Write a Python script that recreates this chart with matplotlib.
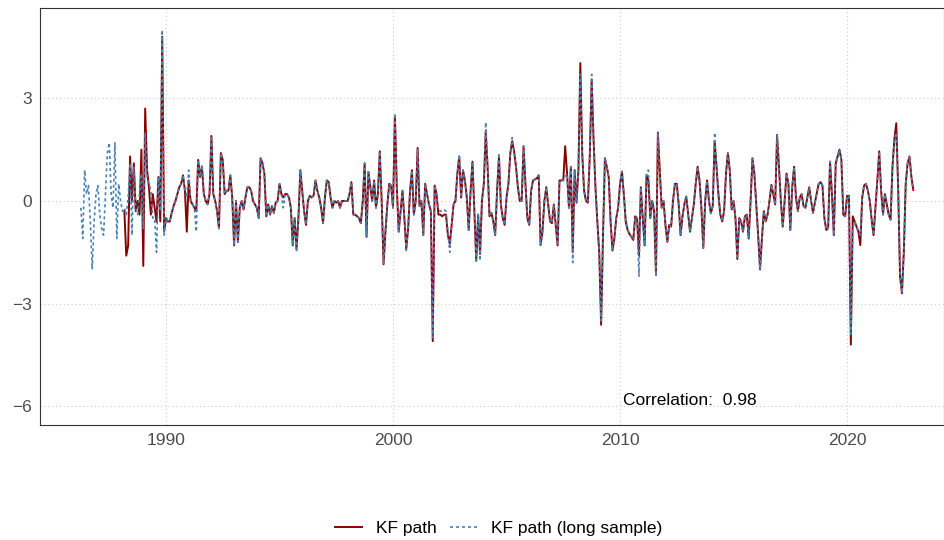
import numpy as np
import pandas as pd
import matplotlib
matplotlib.use("Agg")
import matplotlib.pyplot as plt
from matplotlib.lines import Line2D

plt.rcParams["font.family"] = ["Liberation Sans", "DejaVu Sans"]

# Monthly KF path, long sample (starts 1986-04)
long_start = "1986-04"
long_sample = [
    -0.2, -1.1, 0.9, 0.2, 0.45, -0.6, -2.0, -0.6, 0.2,                      # 1986
    0.45, -0.4, -0.8, -1.0, 0.2, 1.4, 1.7, 0.2, -0.2, 1.7, -1.1, 0.5,       # 1987
    0.0, -0.3, -0.2, -0.4, 0.1, 1.1, -1.0, 1.0, -0.2, -0.4, 0.2, 0.8,       # 1988
    -0.8, 2.0, 0.7, 0.5, 0.3, -0.5, -0.5, -1.5, 0.7, -0.3, 5.0, -1.0,       # 1989
    -0.5, -0.6, -0.6, -0.35, -0.15, 0.0, 0.2, 0.4, 0.5, 0.75, 0.3, 0.1,     # 1990
    0.9, 0.0, -0.1, -0.2, -0.9, 1.2, 0.7, 1.05, 0.2, 0.0, -0.1, 0.2,        # 1991
    1.9, 0.2, 0.0, -0.3, -0.8, 1.4, 1.2, 0.2, 0.3, 0.3, 0.75, 0.1,          # 1992
    -1.3, 0.0, -1.2, -0.2, 0.0, -0.25, 0.1, 0.4, 0.4, 0.3, 0.0, -0.1,       # 1993
    -0.2, -0.5, 1.25, 1.1, 0.8, -0.45, -0.1, -0.4, -0.15, -0.35, -0.05, 0.0,  # 1994
    0.5, 0.2, -0.2, 0.2, 0.2, 0.1, -0.2, -1.3, -0.5, -1.5, -0.5, 0.9,       # 1995
    0.3, -0.3, -0.7, 0.0, 0.15, 0.1, 0.15, 0.6, 0.3, 0.1, -0.2, -0.65,      # 1996
    0.1, 0.6, 0.55, 0.1, -0.2, 0.0, -0.05, 0.0, -0.2, 0.0, 0.0, 0.0,        # 1997
    0.0, 0.2, 0.55, -0.4, -0.4, -0.45, -0.5, -0.65, 0.0, 1.1, -1.05, 0.85,  # 1998
    0.4, 0.0, 0.6, -0.2, 0.2, 1.45, 0.0, -1.85, -0.9, -0.1, 0.5, 0.45,      # 1999
    -0.2, 2.55, 0.4, -0.9, -0.3, 0.3, -0.5, -1.45, -0.8, 0.3, 0.9, -0.4,    # 2000
    0.0, 1.5, -0.15, 0.0, -1.0, 0.5, 0.2, -0.1, -0.25, -4.0, 0.45, 0.2,     # 2001
    -0.25, -0.3, -0.3, -0.25, -0.3, -0.9, -1.5, -0.7, -0.1, 0.0, 0.8, 1.35, # 2002
    0.1, 0.9, 0.6, 0.1, -0.85, 0.3, 1.15, -0.3, -1.75, -0.4, -1.75, 0.0,    # 2003
    0.5, 2.3, 1.0, -0.45, -0.35, -0.6, -1.0, 0.3, 1.4, -0.1, -0.5, -0.7,    # 2004
    0.1, 0.5, 1.4, 1.85, 1.45, 1.0, 0.4, 0.0, 0.0, 1.6, 0.5, -0.5,          # 2005
    -0.7, 0.3, 0.6, 0.63, 0.66, 0.75, -1.29, -0.9, 0.0, 0.4, -0.1, -0.6,    # 2006
    -0.65, -0.1, -0.7, -1.3, 0.6, 0.6, 0.6, 0.7, 0.8, -0.2, 1.0, -1.8,      # 2007
    0.9, -0.05, 0.9, 3.7, 1.4, 0.3, 0.0, -0.05, 1.3, 3.7, 1.8, 0.4,         # 2008
    -0.6, -1.5, -3.5, -1.0, 1.25, 1.0, 0.7, -0.6, -1.45, -1.1, -0.5, -0.2,  # 2009
    0.5, 0.86, 0.2, -0.6, -0.85, -0.97, -1.05, -1.14, -0.45, -0.5, -2.2, 0.4,  # 2010
    -0.5, -1.3, 0.76, 0.9, -0.5, 0.0, -0.3, -2.2, 2.0, 0.9, -0.2, 0.0,      # 2011
    -0.7, -1.2, -0.7, -0.75, 0.0, 0.5, 0.5, -0.1, -1.0, -0.45, -0.1, 0.13,  # 2012
    -0.4, -0.9, -0.5, -0.1, 0.5, 1.0, 0.6, -0.2, -1.38, 0.0, 0.6, 0.0,      # 2013
    -0.36, -0.15, 2.0, 1.0, 0.2, -0.4, -0.6, -0.3, 0.8, 1.4, 0.9, -0.25,    # 2014
    0.0, -0.5, -1.7, -0.5, -0.6, -0.9, -0.45, -0.4, -1.1, 0.0, 1.25, 0.8,   # 2015
    -0.1, -1.0, -2.0, -1.1, -0.3, -0.6, -0.4, 0.0, 0.47, 0.2, -0.1, 1.93,   # 2016
    1.0, 0.0, -0.75, 0.0, 0.8, 0.5, -0.85, 0.4, 1.0, 0.1, -0.3, 0.1,        # 2017
    0.2, -0.15, -0.2, 0.1, 0.4, 0.0, -0.35, -0.05, 0.22, 0.5, 0.55, 0.45,   # 2018
    -0.5, -0.85, -0.8, 1.15, 0.2, -1.0, 1.1, 1.3, 1.5, 1.2, -0.4, -0.45,    # 2019
    0.15, 0.15, -3.9, -0.8, -0.6, -0.75, -0.9, -1.0, 0.1, 0.45, 0.5, 0.3,   # 2020
    0.0, -0.55, -1.0, -0.2, 0.6, 1.45, 0.3, -0.4, 0.2, -0.1, -0.4, -0.55,   # 2021
    1.0, 1.8, 2.0, 0.4, -2.2, -2.7, -1.5, 0.5, 1.1, 1.3, 0.7, 0.32,         # 2022
]

# Monthly KF path, baseline sample (starts 1988-03)
kf_start = "1988-03"
kf_path = [
    -0.3, -1.6, -1.3, 1.3, 0.0, 1.1, -0.3, 0.0, -0.4, 1.5,                  # 1988
    -1.9, 2.7, 0.9, 0.4, -0.4, 0.2, -0.2, -0.6, 0.7, -0.6, 4.8, -0.9,       # 1989
    -0.5, -0.6, -0.6, -0.35, -0.15, 0.0, 0.2, 0.4, 0.5, 0.75, 0.3, -0.9,    # 1990
    0.6, 0.0, -0.1, -0.2, -0.3, 1.2, 0.7, 1.0, 0.2, 0.0, -0.1, 0.2,         # 1991
    1.9, 0.2, 0.0, -0.3, -0.8, 1.4, 1.2, 0.2, 0.3, 0.3, 0.75, 0.1,          # 1992
    -1.3, 0.0, -1.2, -0.2, 0.0, -0.25, 0.1, 0.4, 0.4, 0.3, 0.0, -0.1,       # 1993
    -0.2, -0.5, 1.25, 1.1, 0.8, -0.45, -0.1, -0.4, -0.15, -0.35, -0.05, 0.0,  # 1994
    0.5, 0.2, 0.1, 0.2, 0.2, 0.1, -0.2, -1.3, -0.5, -1.4, -0.5, 0.9,        # 1995
    0.3, -0.3, -0.7, 0.0, 0.15, 0.1, 0.15, 0.6, 0.3, 0.1, -0.2, -0.65,      # 1996
    0.1, 0.6, 0.55, 0.1, -0.2, 0.0, -0.05, 0.0, -0.2, 0.0, 0.0, 0.0,        # 1997
    0.0, 0.2, 0.55, -0.4, -0.4, -0.45, -0.5, -0.65, 0.0, 1.1, -1.05, 0.85,  # 1998
    0.4, 0.0, 0.6, -0.2, 0.2, 1.45, 0.0, -1.85, -0.9, -0.1, 0.5, 0.45,      # 1999
    -0.2, 2.5, 0.4, -0.9, -0.3, 0.3, -0.5, -1.4, -0.8, 0.3, 0.9, -0.4,      # 2000
    0.0, 1.55, -0.15, 0.0, -1.0, 0.5, 0.2, -0.1, -0.3, -4.1, 0.45, 0.2,     # 2001
    -0.4, -0.4, -0.45, -0.4, -0.4, -1.0, -1.25, -0.7, -0.1, 0.0, 0.8, 1.3,  # 2002
    0.1, 0.9, 0.6, 0.1, -0.85, 0.3, 1.15, -0.3, -1.75, -0.4, -1.55, 0.0,    # 2003
    0.5, 2.0, 1.0, -0.45, -0.35, -0.6, -1.0, 0.3, 1.3, -0.1, -0.5, -0.7,    # 2004
    0.1, 0.5, 1.4, 1.75, 1.45, 1.0, 0.4, 0.0, 0.0, 1.6, 0.5, -0.5,          # 2005
    -0.7, 0.3, 0.6, 0.63, 0.66, 0.75, -1.29, -0.9, 0.0, 0.4, -0.1, -0.6,    # 2006
    -0.65, -0.1, -0.7, -1.3, 0.6, 0.6, 0.6, 1.6, 0.8, -0.2, 1.0, -1.5,      # 2007
    0.9, -0.05, 0.9, 4.03, 1.4, 0.3, 0.0, -0.05, 1.3, 3.55, 1.8, 0.4,       # 2008
    -0.6, -1.5, -3.62, -1.0, 1.25, 1.0, 0.7, -0.6, -1.45, -1.1, -0.5, -0.2, # 2009
    0.5, 0.86, 0.2, -0.6, -0.85, -0.97, -1.05, -1.14, -0.45, -0.5, -1.6, 0.4,  # 2010
    -0.5, -1.3, 0.76, 0.6, -0.5, 0.0, -0.3, -2.16, 2.0, 0.9, -0.2, 0.0,     # 2011
    -0.7, -1.2, -0.7, -0.75, 0.0, 0.5, 0.5, -0.1, -1.0, -0.45, -0.1, 0.13,  # 2012
    -0.4, -0.9, -0.5, -0.1, 0.5, 1.0, 0.6, -0.2, -1.38, 0.0, 0.6, 0.0,      # 2013
    -0.36, -0.15, 1.75, 1.0, 0.2, -0.4, -0.6, -0.3, 0.8, 1.4, 0.9, -0.25,   # 2014
    0.0, -0.5, -1.7, -0.5, -0.6, -0.9, -0.45, -0.4, -1.1, 0.0, 1.25, 0.8,   # 2015
    -0.1, -1.0, -2.0, -1.1, -0.3, -0.6, -0.4, 0.0, 0.47, 0.2, -0.1, 1.93,   # 2016
    1.0, 0.0, -0.75, 0.0, 0.8, 0.5, -0.85, 0.4, 1.0, 0.1, -0.3, 0.1,        # 2017
    0.2, -0.15, -0.2, 0.1, 0.4, 0.0, -0.35, -0.05, 0.22, 0.5, 0.55, 0.45,   # 2018
    -0.5, -0.85, -0.8, 1.15, 0.2, -1.0, 1.1, 1.3, 1.5, 1.2, -0.4, -0.45,    # 2019
    0.15, 0.15, -4.2, -0.45, -0.6, -0.75, -0.9, -1.29, 0.1, 0.45, 0.5, 0.3, # 2020
    0.0, -0.55, -1.0, -0.2, 0.6, 1.45, 0.3, -0.4, 0.2, -0.1, -0.4, -0.55,   # 2021
    1.0, 1.8, 2.27, 0.4, -2.2, -2.7, -1.5, 0.5, 1.1, 1.3, 0.7, 0.32,        # 2022
]

correlation = 0.98
x_ticks = [1990, 2000, 2010, 2020]
y_ticks = [3, 0, -3, -6]
series_labels = ["KF path", "KF path (long sample)"]


def decimal_years(start, n):
    idx = pd.period_range(start=start, periods=n, freq="M")
    return idx.year + (idx.month - 1) / 12.0


x_long = decimal_years(long_start, len(long_sample))
x_kf = decimal_years(kf_start, len(kf_path))

RED = "#8B0000"
BLUE = "#4682B4"
TEXT_GREY = "#4D4D4D"
dotted = (0, (1.8, 1.8))

fig = plt.figure(figsize=(9.45, 5.40), dpi=100)
ax = fig.add_axes([40 / 945, 1 - 425 / 540, 904 / 945, 417 / 540])

ax.plot(x_kf, kf_path, color=RED, lw=1.4, zorder=3, solid_joinstyle="round")
ax.plot(x_long, long_sample, color=BLUE, lw=1.2, linestyle=dotted, zorder=4)

ax.set_xlim(1984.45, 2024.27)
ax.set_ylim(-6.55, 5.64)
ax.set_xticks(x_ticks)
ax.set_yticks(y_ticks)
ax.tick_params(axis="both", length=0, labelsize=12.5, colors=TEXT_GREY, pad=6)
ax.grid(True, color="#CCCCCC", linestyle=(0, (1, 2.5)), lw=0.8)
ax.set_axisbelow(True)
for sp in ax.spines.values():
    sp.set_color("#333333")
    sp.set_linewidth(0.8)

ax.text(2013.08, -5.82, f"Correlation:  {correlation:.2f}", ha="center", va="center",
        fontsize=12.5, color="black")

handles = [
    Line2D([], [], color=RED, lw=1.4),
    Line2D([], [], color=BLUE, lw=1.2, linestyle=dotted),
]
fig.legend(handles, series_labels, loc="center", bbox_to_anchor=(0.5275, 0.022),
           ncol=2, frameon=False, fontsize=12.5, handlelength=1.55, handletextpad=0.8,
           columnspacing=0.8)

fig.savefig("out.png", dpi=100)
